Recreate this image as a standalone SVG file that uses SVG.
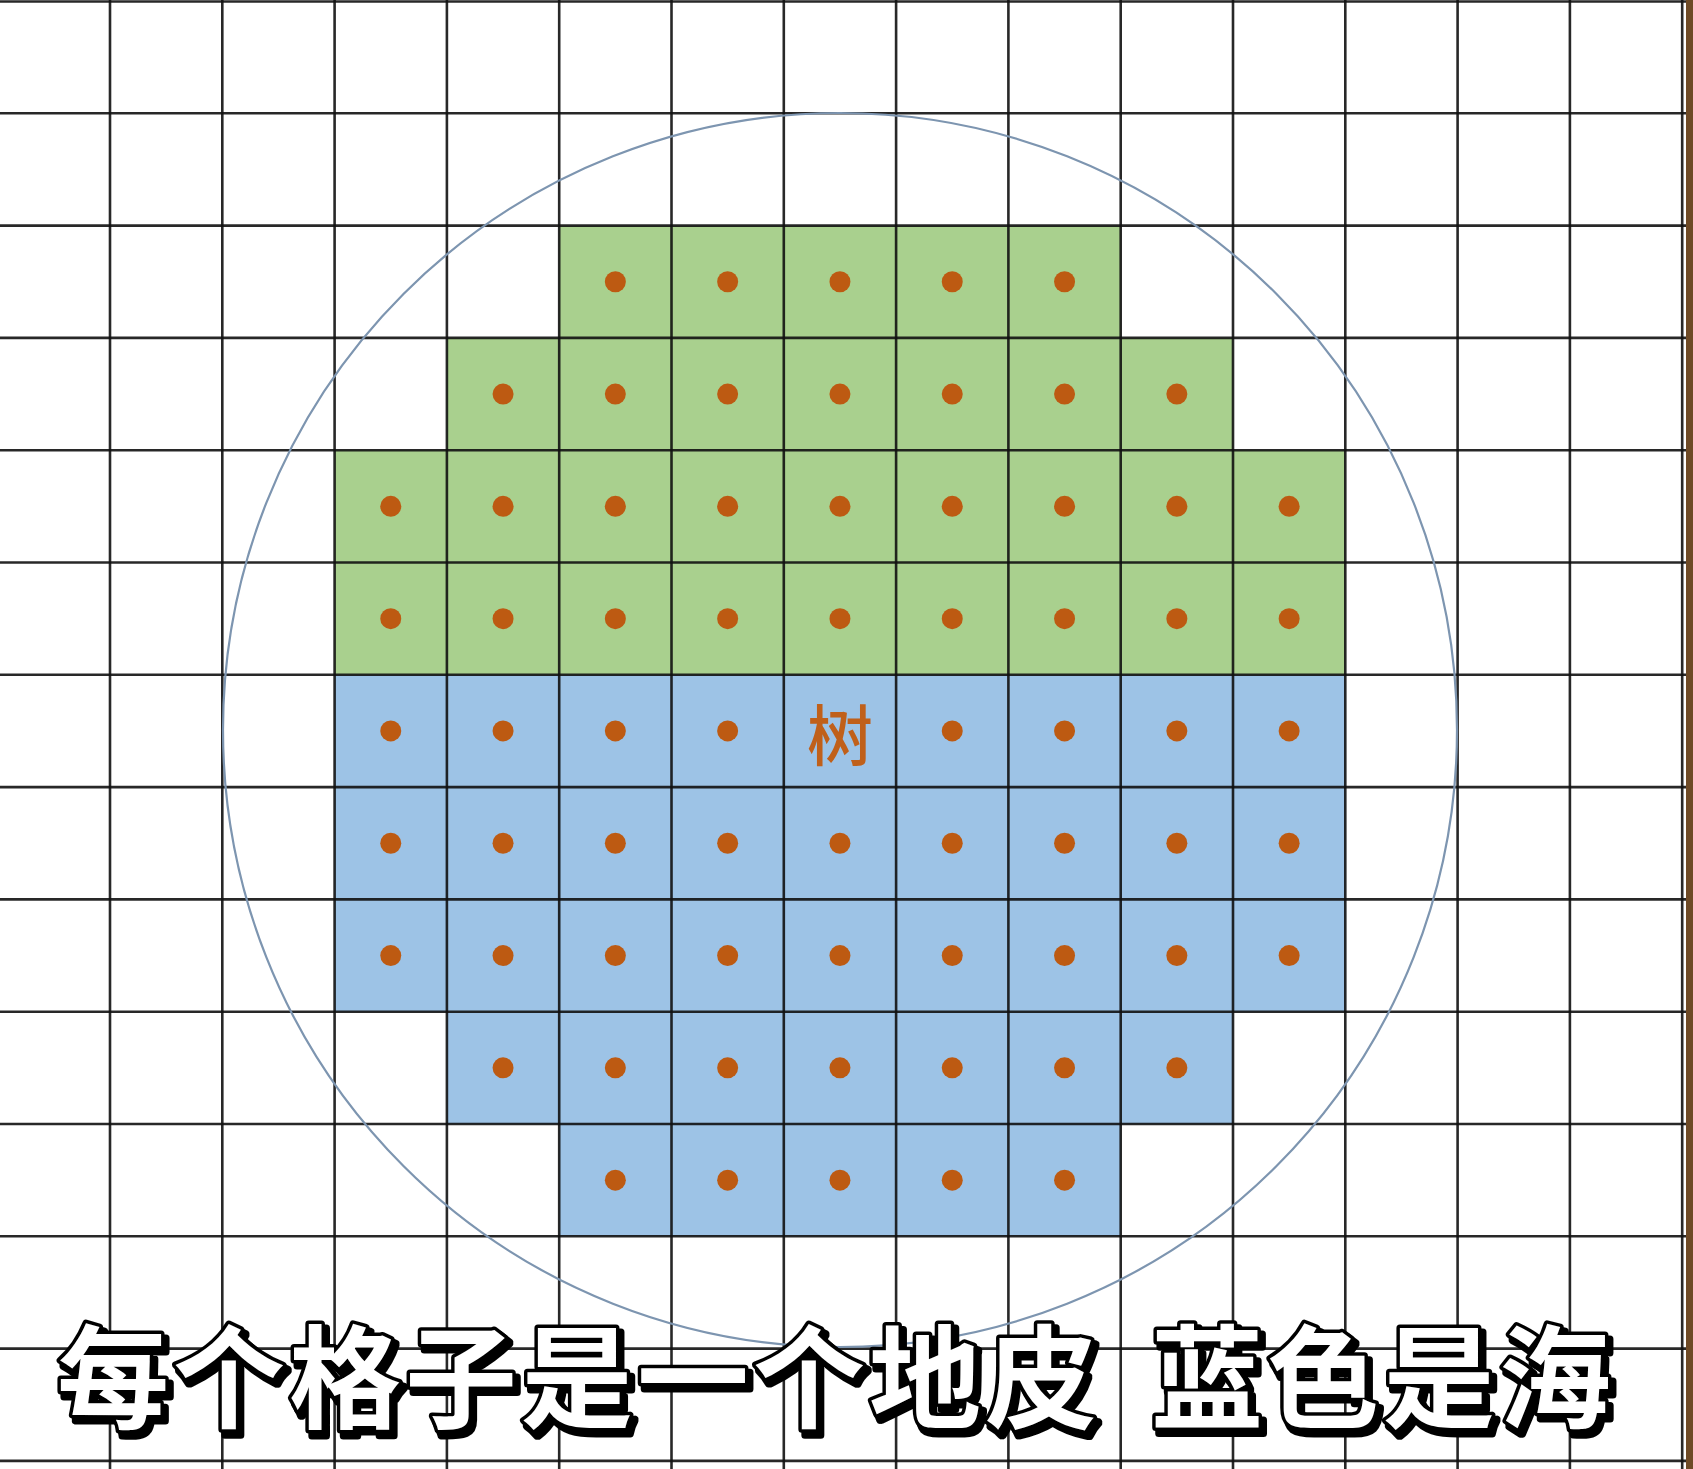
<svg xmlns="http://www.w3.org/2000/svg" width="1693" height="1469" viewBox="0 0 1693 1469">
<style>
.green{fill:#a9d08e}
.blue{fill:#9dc3e6}
.grid line{stroke:#111;stroke-width:2.6;stroke-opacity:0.9}
.dot{fill:#bd5a12}
.cap{font-family:"Noto Sans CJK SC","Noto Sans CJK JP",sans-serif;font-weight:700;font-size:112px;letter-spacing:4px;fill:#fff;stroke:#000;stroke-width:7;stroke-linejoin:round;paint-order:stroke;filter:url(#shadow)}
</style>
<defs>
<filter id="shadow" x="-5%" y="-20%" width="110%" height="150%">
<feOffset in="SourceAlpha" dx="4" dy="5" result="off"/>
<feMorphology in="off" operator="dilate" radius="1" result="dil"/>
<feFlood flood-color="#000"/>
<feComposite in2="dil" operator="in" result="sh"/>
<feMerge><feMergeNode in="sh"/><feMergeNode in="SourceGraphic"/></feMerge>
</filter>
</defs>
<rect x="0" y="0" width="1693" height="1469" fill="#fff"/>
<rect x="1686" y="0" width="7" height="1469" fill="#6e4a26"/>
<g id="land">
<rect class="green" x="559.2" y="225.6" width="561.5" height="112.3"/>
<rect class="green" x="446.9" y="337.9" width="786.1" height="112.3"/>
<rect class="green" x="334.6" y="450.2" width="1010.7" height="224.6"/>
</g>
<g id="sea">
<rect class="blue" x="334.6" y="674.8" width="1010.7" height="336.9"/>
<rect class="blue" x="446.9" y="1011.7" width="786.1" height="112.3"/>
<rect class="blue" x="559.2" y="1124" width="561.5" height="112.3"/>
</g>
<g id="grid" class="grid">
<line x1="110" y1="0" x2="110" y2="1469"/>
<line x1="222.3" y1="0" x2="222.3" y2="1469"/>
<line x1="334.6" y1="0" x2="334.6" y2="1469"/>
<line x1="446.9" y1="0" x2="446.9" y2="1469"/>
<line x1="559.2" y1="0" x2="559.2" y2="1469"/>
<line x1="671.5" y1="0" x2="671.5" y2="1469"/>
<line x1="783.8" y1="0" x2="783.8" y2="1469"/>
<line x1="896.1" y1="0" x2="896.1" y2="1469"/>
<line x1="1008.4" y1="0" x2="1008.4" y2="1469"/>
<line x1="1120.7" y1="0" x2="1120.7" y2="1469"/>
<line x1="1233" y1="0" x2="1233" y2="1469"/>
<line x1="1345.3" y1="0" x2="1345.3" y2="1469"/>
<line x1="1457.6" y1="0" x2="1457.6" y2="1469"/>
<line x1="1569.9" y1="0" x2="1569.9" y2="1469"/>
<line x1="1682.2" y1="0" x2="1682.2" y2="1469"/>
<line x1="0" y1="1.5" x2="1686" y2="1.5"/>
<line x1="0" y1="113.3" x2="1686" y2="113.3"/>
<line x1="0" y1="225.6" x2="1686" y2="225.6"/>
<line x1="0" y1="337.9" x2="1686" y2="337.9"/>
<line x1="0" y1="450.2" x2="1686" y2="450.2"/>
<line x1="0" y1="562.5" x2="1686" y2="562.5"/>
<line x1="0" y1="674.8" x2="1686" y2="674.8"/>
<line x1="0" y1="787.1" x2="1686" y2="787.1"/>
<line x1="0" y1="899.4" x2="1686" y2="899.4"/>
<line x1="0" y1="1011.7" x2="1686" y2="1011.7"/>
<line x1="0" y1="1124" x2="1686" y2="1124"/>
<line x1="0" y1="1236.3" x2="1686" y2="1236.3"/>
<line x1="0" y1="1348.6" x2="1686" y2="1348.6"/>
<line x1="0" y1="1460.9" x2="1686" y2="1460.9"/>
</g>
<g id="range-circle">
<circle cx="840" cy="730" r="617" fill="none" stroke="#7d95b0" stroke-width="2.2"/>
</g>
<g id="tiles">
<g id="row2">
<circle class="dot" cx="615.35" cy="281.75" r="10.5"/><circle class="dot" cx="727.65" cy="281.75" r="10.5"/><circle class="dot" cx="839.95" cy="281.75" r="10.5"/><circle class="dot" cx="952.25" cy="281.75" r="10.5"/><circle class="dot" cx="1064.55" cy="281.75" r="10.5"/>
</g>
<g id="row3">
<circle class="dot" cx="503.05" cy="394.05" r="10.5"/><circle class="dot" cx="615.35" cy="394.05" r="10.5"/><circle class="dot" cx="727.65" cy="394.05" r="10.5"/><circle class="dot" cx="839.95" cy="394.05" r="10.5"/><circle class="dot" cx="952.25" cy="394.05" r="10.5"/><circle class="dot" cx="1064.55" cy="394.05" r="10.5"/><circle class="dot" cx="1176.85" cy="394.05" r="10.5"/>
</g>
<g id="row4">
<circle class="dot" cx="390.75" cy="506.35" r="10.5"/><circle class="dot" cx="503.05" cy="506.35" r="10.5"/><circle class="dot" cx="615.35" cy="506.35" r="10.5"/><circle class="dot" cx="727.65" cy="506.35" r="10.5"/><circle class="dot" cx="839.95" cy="506.35" r="10.5"/><circle class="dot" cx="952.25" cy="506.35" r="10.5"/><circle class="dot" cx="1064.55" cy="506.35" r="10.5"/><circle class="dot" cx="1176.85" cy="506.35" r="10.5"/><circle class="dot" cx="1289.15" cy="506.35" r="10.5"/>
</g>
<g id="row5">
<circle class="dot" cx="390.75" cy="618.65" r="10.5"/><circle class="dot" cx="503.05" cy="618.65" r="10.5"/><circle class="dot" cx="615.35" cy="618.65" r="10.5"/><circle class="dot" cx="727.65" cy="618.65" r="10.5"/><circle class="dot" cx="839.95" cy="618.65" r="10.5"/><circle class="dot" cx="952.25" cy="618.65" r="10.5"/><circle class="dot" cx="1064.55" cy="618.65" r="10.5"/><circle class="dot" cx="1176.85" cy="618.65" r="10.5"/><circle class="dot" cx="1289.15" cy="618.65" r="10.5"/>
</g>
<g id="row6">
<circle class="dot" cx="390.75" cy="730.95" r="10.5"/><circle class="dot" cx="503.05" cy="730.95" r="10.5"/><circle class="dot" cx="615.35" cy="730.95" r="10.5"/><circle class="dot" cx="727.65" cy="730.95" r="10.5"/><circle class="dot" cx="952.25" cy="730.95" r="10.5"/><circle class="dot" cx="1064.55" cy="730.95" r="10.5"/><circle class="dot" cx="1176.85" cy="730.95" r="10.5"/><circle class="dot" cx="1289.15" cy="730.95" r="10.5"/>
</g>
<g id="row7">
<circle class="dot" cx="390.75" cy="843.25" r="10.5"/><circle class="dot" cx="503.05" cy="843.25" r="10.5"/><circle class="dot" cx="615.35" cy="843.25" r="10.5"/><circle class="dot" cx="727.65" cy="843.25" r="10.5"/><circle class="dot" cx="839.95" cy="843.25" r="10.5"/><circle class="dot" cx="952.25" cy="843.25" r="10.5"/><circle class="dot" cx="1064.55" cy="843.25" r="10.5"/><circle class="dot" cx="1176.85" cy="843.25" r="10.5"/><circle class="dot" cx="1289.15" cy="843.25" r="10.5"/>
</g>
<g id="row8">
<circle class="dot" cx="390.75" cy="955.55" r="10.5"/><circle class="dot" cx="503.05" cy="955.55" r="10.5"/><circle class="dot" cx="615.35" cy="955.55" r="10.5"/><circle class="dot" cx="727.65" cy="955.55" r="10.5"/><circle class="dot" cx="839.95" cy="955.55" r="10.5"/><circle class="dot" cx="952.25" cy="955.55" r="10.5"/><circle class="dot" cx="1064.55" cy="955.55" r="10.5"/><circle class="dot" cx="1176.85" cy="955.55" r="10.5"/><circle class="dot" cx="1289.15" cy="955.55" r="10.5"/>
</g>
<g id="row9">
<circle class="dot" cx="503.05" cy="1067.85" r="10.5"/><circle class="dot" cx="615.35" cy="1067.85" r="10.5"/><circle class="dot" cx="727.65" cy="1067.85" r="10.5"/><circle class="dot" cx="839.95" cy="1067.85" r="10.5"/><circle class="dot" cx="952.25" cy="1067.85" r="10.5"/><circle class="dot" cx="1064.55" cy="1067.85" r="10.5"/><circle class="dot" cx="1176.85" cy="1067.85" r="10.5"/>
</g>
<g id="row10">
<circle class="dot" cx="615.35" cy="1180.15" r="10.5"/><circle class="dot" cx="727.65" cy="1180.15" r="10.5"/><circle class="dot" cx="839.95" cy="1180.15" r="10.5"/><circle class="dot" cx="952.25" cy="1180.15" r="10.5"/><circle class="dot" cx="1064.55" cy="1180.15" r="10.5"/>
</g>
</g>
<g id="tree">
<text x="840" y="760" text-anchor="middle" font-family="'Noto Sans CJK SC',sans-serif" font-weight="500" font-size="66" fill="#c0601a">树</text>
</g>
<g id="caption">
<text class="cap" x="57" y="1420">每个格子是一个地皮</text>
<text class="cap" x="1151" y="1420">蓝色是海</text>
</g>
</svg>
